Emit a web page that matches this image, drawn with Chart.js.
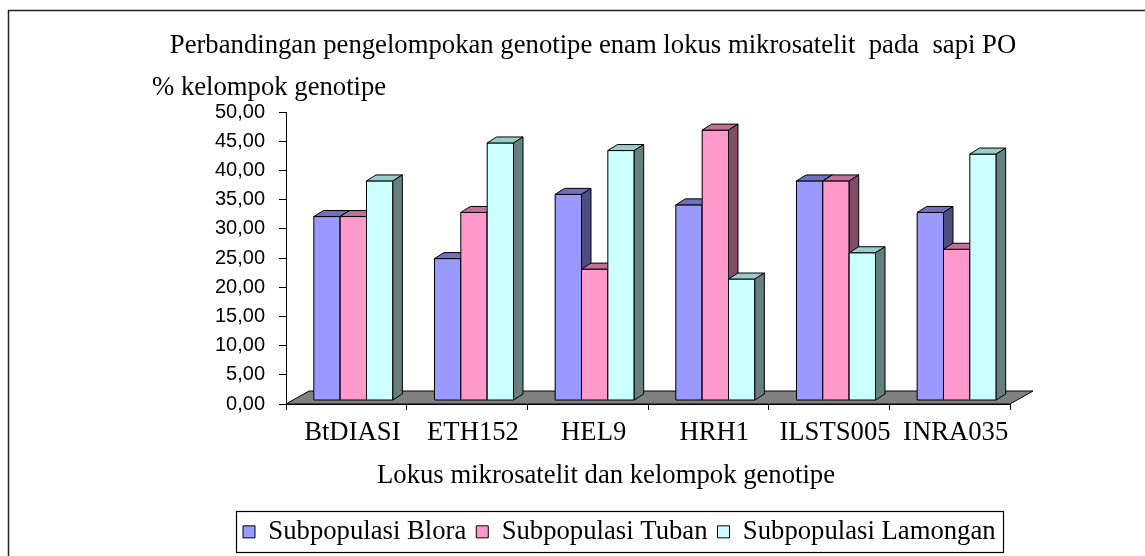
<!DOCTYPE html>
<html>
<head>
<meta charset="utf-8">
<script src="https://cdn.jsdelivr.net/npm/chart.js@4.4.1/dist/chart.umd.min.js"></script>
<style>
  body { margin: 0; background: #fff; }
  canvas { display: block; }
</style>
</head>
<body>
<canvas id="chart" width="1145" height="556"></canvas>
<script>
const categories = ['BtDIASI', 'ETH152', 'HEL9', 'HRH1', 'ILSTS005', 'INRA035'];
const blora = [31.5, 24.3, 35.3, 33.5, 37.6, 32.2];
const tuban = [31.5, 32.2, 22.5, 46.3, 37.6, 25.9];
const lamongan = [37.6, 44.1, 42.8, 20.8, 25.3, 42.2];
const seriesNames = ['Subpopulasi Blora', 'Subpopulasi Tuban', 'Subpopulasi Lamongan'];
const yTickLabels = ['0,00', '5,00', '10,00', '15,00', '20,00', '25,00', '30,00', '35,00', '40,00', '45,00', '50,00'];
const chartTitle = 'Perbandingan pengelompokan genotipe enam lokus mikrosatelit  pada  sapi PO';
const yTitle = '% kelompok genotipe';
const xTitle = 'Lokus mikrosatelit dan kelompok genotipe';

const frontColors = ['#9999ff', '#ff99cc', '#ccffff'];
const topColors = ['#7070c0', '#c07099', '#99cccc'];
const sideColors = ['#4d4d80', '#804d66', '#668080'];

const serif = 'Liberation Serif';
const textSize = 26.7;

// 3d look: floor + top/side faces of every column
const DX = 9.5, DY = 6;          // column depth
const FLOOR_X = 23, FLOOR_Y = 13;
const SHIFT_X = 7, SHIFT_Y = -3.5;

function poly(ctx, pts, fill) {
    ctx.beginPath();
    ctx.moveTo(pts[0][0], pts[0][1]);
    for (let k = 1; k < pts.length; k++) ctx.lineTo(pts[k][0], pts[k][1]);
    ctx.closePath();
    ctx.fillStyle = fill;
    ctx.fill();
    ctx.strokeStyle = '#000';
    ctx.lineWidth = 1;
    ctx.stroke();
}

const threeD = {
    id: 'threeD',
    beforeDatasetsDraw(chart) {
        const {ctx, chartArea} = chart;
        const y0 = chart.scales.y.getPixelForValue(0);
        ctx.save();
        poly(ctx, [
            [chartArea.left, y0],
            [chartArea.left + FLOOR_X, y0 - FLOOR_Y],
            [chartArea.right + FLOOR_X, y0 - FLOOR_Y],
            [chartArea.right, y0]
        ], '#808080');
        ctx.restore();
        ctx.save();
        ctx.translate(SHIFT_X, SHIFT_Y);
    },
    afterDatasetsDraw(chart) {
        const ctx = chart.ctx;
        categories.forEach((c, i) => {
            chart.data.datasets.forEach((ds, s) => {
                const bar = chart.getDatasetMeta(s).data[i];
                const l = bar.x - bar.width / 2, r = bar.x + bar.width / 2;
                const t = bar.y, b = bar.base;
                poly(ctx, [[l, t], [r, t], [r, b], [l, b]], frontColors[s]);
                poly(ctx, [[l, t], [l + DX, t - DY], [r + DX, t - DY], [r, t]], topColors[s]);
                poly(ctx, [[r, t], [r + DX, t - DY], [r + DX, b - DY], [r, b]], sideColors[s]);
            });
        });
        ctx.restore();
    }
};

const decor = {
    id: 'decor',
    afterLayout(chart) {
        chart.titleBlock.left += 88;
        chart.titleBlock.right += 88;
        const lg = chart.legend;
        const start = (lg.left + 10 + lg.right - lg.lineWidths[0]) / 2;
        const dx = 243 - start;
        lg.left += dx;
        lg.right += dx;
    },
    beforeDraw(chart) {
        const ctx = chart.ctx;
        ctx.save();
        ctx.strokeStyle = '#222';
        ctx.lineWidth = 1.5;
        ctx.beginPath();
        ctx.moveTo(8.5, 556);
        ctx.lineTo(8.5, 10.5);
        ctx.lineTo(1145, 10.5);
        ctx.stroke();
        ctx.restore();
    },
    afterDraw(chart) {
        const ctx = chart.ctx;
        ctx.save();
        ctx.fillStyle = '#000';
        ctx.font = textSize + 'px "' + serif + '"';
        ctx.textAlign = 'left';
        ctx.textBaseline = 'alphabetic';
        ctx.fillText(yTitle, 152, 95);
        ctx.fillText(xTitle, 377, 483);

        const lg = chart.legend;
        const hb = lg.legendHitBoxes;
        const last = hb[hb.length - 1];
        const left = hb[0].left - 7;
        const right = last.left + last.width + 7;
        ctx.strokeStyle = '#000';
        ctx.lineWidth = 1.2;
        ctx.strokeRect(Math.round(left) + 0.5, Math.round(lg.top + 2.5) + 0.5, Math.round(right - left), 41);
        ctx.restore();
    }
};

new Chart(document.getElementById('chart'), {
    type: 'bar',
    data: {
        labels: categories,
        datasets: [
            { label: seriesNames[0], data: blora, backgroundColor: frontColors[0], borderColor: '#000', borderWidth: 1 },
            { label: seriesNames[1], data: tuban, backgroundColor: frontColors[1], borderColor: '#000', borderWidth: 1 },
            { label: seriesNames[2], data: lamongan, backgroundColor: frontColors[2], borderColor: '#000', borderWidth: 1 }
        ]
    },
    options: {
        responsive: false,
        animation: false,
        devicePixelRatio: 1,
        categoryPercentage: 0.655,
        barPercentage: 1,
        layout: { padding: { left: 0, right: 135, top: 0, bottom: 0.8 } },
        plugins: {
            title: {
                display: true,
                text: chartTitle,
                color: '#000',
                font: { family: serif, size: textSize, weight: 'normal' },
                padding: { top: 30, bottom: 49.96 }
            },
            legend: {
                position: 'bottom',
                labels: {
                    boxWidth: 12,
                    boxHeight: 12,
                    padding: 10,
                    color: '#000',
                    font: { family: serif, size: textSize }
                }
            },
            tooltip: { enabled: false }
        },
        scales: {
            x: {
                grid: { offset: true, drawOnChartArea: false, tickLength: 6, color: '#000' },
                border: { color: '#000' },
                ticks: {
                    color: '#000',
                    padding: 7,
                    labelOffset: 6,
                    autoSkip: false,
                    maxRotation: 0,
                    font: { family: serif, size: textSize }
                },
                afterFit(scale) { scale.height = 104.5; }
            },
            y: {
                min: 0,
                max: 50,
                ticks: {
                    stepSize: 5,
                    padding: 14,
                    color: '#000',
                    font: { family: 'Liberation Sans', size: 20 },
                    callback: (v, i) => yTickLabels[i]
                },
                grid: { drawOnChartArea: false, tickLength: 7, color: '#000' },
                border: { color: '#000' },
                afterFit(scale) { scale.width = 286; }
            }
        }
    },
    plugins: [threeD, decor]
});
</script>
</body>
</html>
